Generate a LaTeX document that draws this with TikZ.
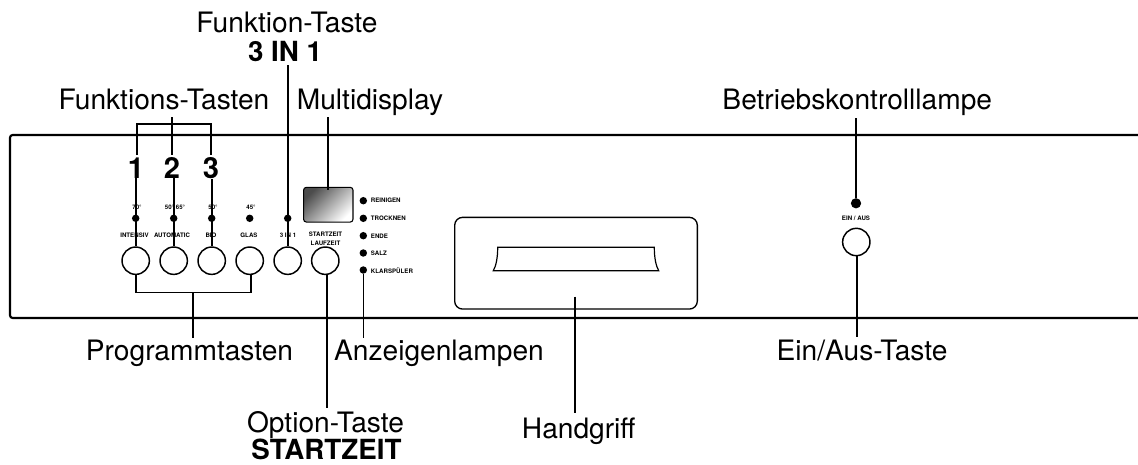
\documentclass[tikz,border=0pt]{standalone}
\usepackage{fontspec}
\setmainfont{TeX Gyre Heros}
\tikzset{
	biglabel/.style={anchor=base,inner sep=0pt,font=\fontsize{21.1}{24}\selectfont},
	boldlabel/.style={anchor=base,inner sep=0pt,font=\fontsize{20.8}{24}\selectfont\bfseries},
	tinylabel/.style={inner sep=0pt,align=center,font=\fontsize{4.6}{6.6}\selectfont\bfseries},
	lampdot/.style={circle,fill=black,inner sep=0pt,minimum size=5.6pt},
	knob/.style={circle,draw,line width=1.1pt,inner sep=0pt,minimum size=20.5pt},
	leader/.style={line width=1.2pt},
}
\begin{document}
\begin{tikzpicture}[x=0.75pt,y=-0.75pt]
	\useasboundingbox (0,0) rectangle (1138,464);
	% panel
	\draw[line width=1.6pt,rounded corners=2pt] (1138,135) -- (10,135) -- (10,318) -- (1138,318);
	% handle
	\node[draw,line width=1pt,rounded corners=6pt,minimum width=182pt,minimum height=68.8pt,inner sep=0pt] (griff) at (576,263.2) {};
	\draw[line width=0.9pt] (497.7,247.3) -- (654.3,247.3) .. controls (654.3,258) and (656,266) .. (658.7,270.7) -- (493.3,270.7) .. controls (496,266) and (497.7,258) .. (497.7,247.3) -- cycle;
	% display
	\node[draw,rounded corners=2pt,line width=0.8pt,minimum width=37pt,minimum height=26pt,inner sep=0pt,shading=axis,left color=black!70,middle color=black!35,right color=white,shading angle=45] (display) at (328.3,204.7) {};
	% small texts
	\node[tinylabel] (t70) at (137,207.7) {70°};
	\node[tinylabel] (t5065) at (175,207.7) {50° 65°};
	\node[tinylabel] (t50) at (213,207.7) {50°};
	\node[tinylabel] (t45) at (251,207.7) {45°};
	\node[tinylabel] (nIntensiv) at (134.5,235.7) {INTENSIV};
	\node[tinylabel] (nAutomatic) at (172,235.7) {AUTOMATIC};
	\node[tinylabel] (nBio) at (211,235.7) {BIO};
	\node[tinylabel] (nGlas) at (249,235.7) {GLAS};
	\node[tinylabel] (nDreiInEins) at (288,235.7) {3 IN 1};
	\node[tinylabel] (nStart) at (325.5,239) {STARTZEIT\\LAUFZEIT};
	\node[tinylabel] (nEinAus) at (856,218.7) {EIN / AUS};
	\node[tinylabel,anchor=west] (nReinigen) at (370.7,200.7) {REINIGEN};
	\node[tinylabel,anchor=west] (nTrocknen) at (370.7,218.5) {TROCKNEN};
	\node[tinylabel,anchor=west] (nEnde) at (370.7,236) {ENDE};
	\node[tinylabel,anchor=west] (nSalz) at (370.7,253) {SALZ};
	\node[tinylabel,anchor=west] (nKlar) at (370.7,271) {KLARSPÜLER};
	% lamps
	\node[lampdot] (dIntensiv) at (135.7,218.3) {};
	\node[lampdot] (dAutomatic) at (173.7,218.3) {};
	\node[lampdot] (dBio) at (211.7,218.3) {};
	\node[lampdot] (dGlas) at (249.7,218.3) {};
	\node[lampdot] (dDreiInEins) at (287.7,218.3) {};
	\node[lampdot] (dReinigen) at (363.3,200.7) {};
	\node[lampdot] (dTrocknen) at (363.3,218.3) {};
	\node[lampdot] (dEnde) at (363.3,235.7) {};
	\node[lampdot] (dSalz) at (363.3,253) {};
	\node[lampdot] (dKlar) at (363.3,270) {};
	\node[lampdot,minimum size=7.7pt] (dBetrieb) at (856,203.3) {};
	% buttons
	\node[knob] (bIntensiv) at (135.7,260.7) {};
	\node[knob] (bAutomatic) at (173.7,260.7) {};
	\node[knob] (bBio) at (211.7,260.7) {};
	\node[knob] (bGlas) at (249.7,260.7) {};
	\node[knob] (bDreiInEins) at (287.7,260.7) {};
	\node[knob] (bStart) at (325.3,260.7) {};
	\node[knob] (bEinAus) at (856.3,242) {};
	% digits
	\node[boldlabel,font=\fontsize{21.8}{24}\selectfont\bfseries] (one) at (136,178) {1};
	\node[boldlabel,font=\fontsize{21.8}{24}\selectfont\bfseries] (two) at (172,178) {2};
	\node[boldlabel,font=\fontsize{21.8}{24}\selectfont\bfseries] (three) at (211,178) {3};
	% captions
	\node[biglabel] (funktion) at (287,32.7) {Funktion-Taste};
	\node[boldlabel] (dreiineins) at (285,61.7) {3 IN 1};
	\node[biglabel] (funktionen) at (164,109.3) {Funktions-Tasten};
	\node[biglabel] (multi) at (370,109.3) {Multidisplay};
	\node[biglabel] (betrieb) at (857.3,109.3) {Betriebskontrolllampe};
	\node[biglabel] (programm) at (189.5,360.7) {Programmtasten};
	\node[biglabel] (anzeigen) at (439,360.7) {Anzeigenlampen};
	\node[biglabel] (einaus) at (862,360.7) {Ein/Aus-Taste};
	\node[biglabel] (option) at (325.5,432.3) {Option-Taste};
	\node[boldlabel] (startzeit) at (326.5,459.3) {STARTZEIT};
	\node[biglabel] (griffname) at (578.7,438.3) {Handgriff};
	% leaders
	\coordinate (funkTop) at (172,117);
	\coordinate (funkMid) at (172,124);
	\coordinate (funkLeft) at (136.7,124);
	\coordinate (funkRight) at (210.7,124);
	\coordinate (oneTop) at (136.7,155);
	\coordinate (twoTop) at (172,155);
	\coordinate (threeTop) at (210.7,155);
	\coordinate (dreiTop) at (287.7,65);
	\coordinate (multiTop) at (328,117);
	\coordinate (betriebTop) at (856,118);
	\coordinate (progMid) at (192.7,292.3);
	\coordinate (progLeft) at (135.7,292.3);
	\coordinate (progRight) at (250.7,292.3);
	\coordinate (progEnd) at (192.7,338);
	\coordinate (optEnd) at (326.7,408);
	\coordinate (anzEnd) at (363.3,338);
	\coordinate (griffTop) at (574.7,296.7);
	\coordinate (griffEnd) at (574.7,413.3);
	\coordinate (einausEnd) at (857,337);
	\draw[leader] (funkTop) -- (funkMid);
	\draw[leader] (oneTop) -- (funkLeft) -- (funkRight) -- (threeTop);
	\draw[leader] (funkMid) -- (twoTop);
	\draw[leader] (one.south -| bIntensiv) -- (bIntensiv.north);
	\draw[leader] (two.south -| bAutomatic) -- (bAutomatic.north);
	\draw[leader] (three.south -| bBio) -- (bBio.north);
	\draw[leader] (dreiTop) -- (bDreiInEins.north);
	\draw[leader] (multiTop) -- (display.north -| multiTop) -- ++(0,3.5);
	\draw[leader] (betriebTop) -- (dBetrieb);
	\draw[leader] (bIntensiv.south) -- (progLeft) -- (progRight) -- (bGlas.south -| progRight);
	\draw[leader] (progMid) -- (progEnd);
	\draw[leader] (bStart.south -| optEnd) -- (optEnd);
	\draw[leader] (dKlar) -- (anzEnd);
	\draw[leader] (griffTop) -- (griffEnd);
	\draw[leader] (bEinAus.south -| einausEnd) -- (einausEnd);
\end{tikzpicture}
\end{document}
